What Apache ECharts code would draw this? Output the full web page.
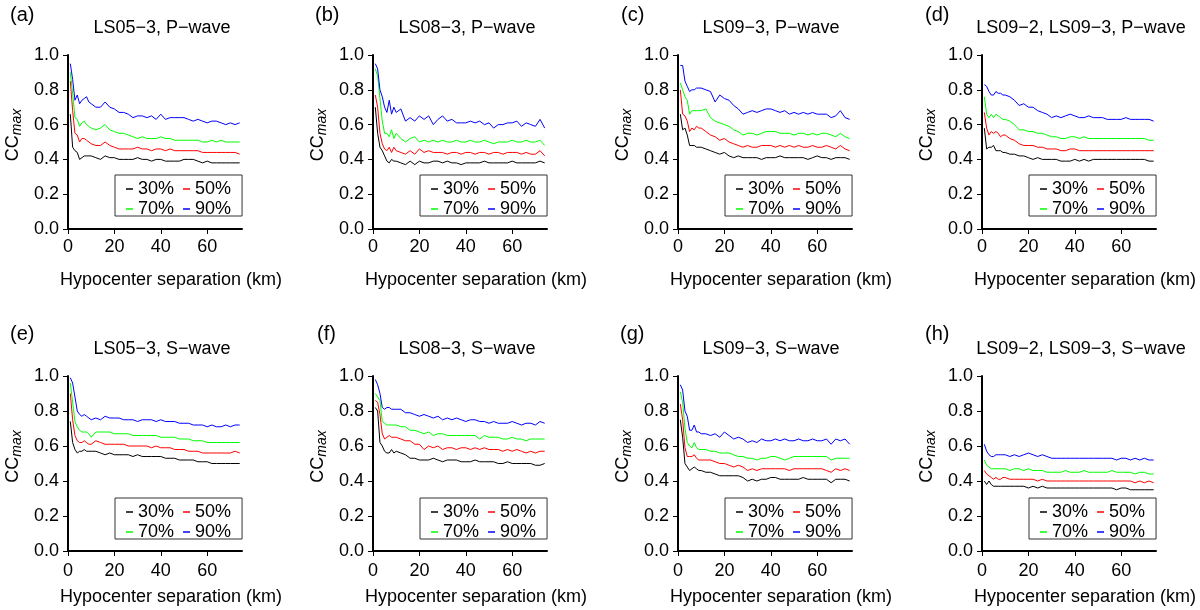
<!DOCTYPE html>
<html><head><meta charset="utf-8">
<script src="https://cdn.jsdelivr.net/npm/echarts@6/dist/echarts.min.js"></script>
<style>html,body{margin:0;padding:0;background:#fff}#c{width:1200px;height:610px}</style>
</head><body><div id="c"></div><script>
// Hypocenter separation (km)
const X = [1,2,3,4,5,6,7,8,9,10,12,14,16,18,20,22,24,26,28,30,32,34,36,38,40,42,44,46,48,50,52,54,56,58,60,62,64,66,68,70,72,74];
const LEVELS = ['30%','50%','70%','90%'];
const PANEL_LABELS = ['(a)','(b)','(c)','(d)','(e)','(f)','(g)','(h)'];
const PANEL_TITLES = ['LS05\u22123, P\u2212wave','LS08\u22123, P\u2212wave','LS09\u22123, P\u2212wave','LS09\u22122, LS09\u22123, P\u2212wave',
                      'LS05\u22123, S\u2212wave','LS08\u22123, S\u2212wave','LS09\u22123, S\u2212wave','LS09\u22122, LS09\u22123, S\u2212wave'];
const X_TICKS = [0,20,40,60];
const X_NAME = 'Hypocenter separation (km)';

// (a) LS05-3 P
const a30 = [0.66,0.47,0.45,0.44,0.40,0.41,0.42,0.42,0.42,0.42, 0.41,0.40,0.42,0.41,0.41,0.40,0.40,0.40,0.40,0.41,0.40,0.40,0.39,0.40,0.40,0.39, 0.39,0.39,0.39,0.40,0.40,0.40,0.39,0.38,0.39,0.38,0.38,0.38,0.38,0.38,0.38,0.38];
const a50 = [0.85,0.68,0.55,0.54,0.50,0.52,0.52,0.51,0.50,0.49, 0.48,0.48,0.50,0.48,0.47,0.46,0.46,0.46,0.46,0.47,0.46,0.46,0.45,0.46,0.46,0.45, 0.46,0.45,0.45,0.45,0.45,0.45,0.45,0.44,0.44,0.44,0.44,0.44,0.44,0.44,0.44,0.43];
const a70 = [0.90,0.78,0.64,0.63,0.59,0.61,0.62,0.60,0.59,0.58, 0.57,0.58,0.60,0.57,0.56,0.55,0.55,0.54,0.53,0.52,0.53,0.52,0.52,0.52,0.53,0.52, 0.52,0.51,0.51,0.51,0.51,0.51,0.51,0.50,0.50,0.51,0.50,0.51,0.50,0.50,0.50,0.50];
const a90 = [0.95,0.86,0.74,0.77,0.72,0.74,0.75,0.76,0.73,0.72, 0.70,0.70,0.73,0.70,0.69,0.67,0.67,0.66,0.64,0.65,0.65,0.64,0.65,0.63,0.66,0.63, 0.64,0.64,0.64,0.64,0.63,0.62,0.63,0.62,0.61,0.62,0.62,0.61,0.60,0.61,0.60,0.61];
// (b) LS08-3 P
const b30 = [0.70,0.55,0.47,0.45,0.42,0.39,0.38,0.40,0.39,0.39, 0.38,0.37,0.39,0.37,0.39,0.38,0.38,0.39,0.39,0.38,0.39,0.38,0.38,0.37,0.38,0.38, 0.38,0.38,0.39,0.38,0.38,0.38,0.38,0.38,0.39,0.38,0.38,0.38,0.38,0.38,0.39,0.38];
const b50 = [0.77,0.70,0.55,0.49,0.46,0.45,0.47,0.44,0.47,0.45, 0.44,0.43,0.45,0.43,0.46,0.44,0.45,0.44,0.44,0.44,0.43,0.44,0.44,0.43,0.44,0.44, 0.43,0.44,0.44,0.43,0.44,0.44,0.43,0.44,0.44,0.44,0.43,0.44,0.43,0.43,0.45,0.42];
const b70 = [0.92,0.88,0.75,0.62,0.55,0.55,0.53,0.57,0.52,0.55, 0.52,0.50,0.52,0.53,0.50,0.51,0.50,0.51,0.50,0.51,0.50,0.50,0.51,0.50,0.50,0.51, 0.50,0.50,0.51,0.50,0.49,0.50,0.50,0.50,0.51,0.50,0.50,0.51,0.50,0.50,0.51,0.48];
const b90 = [0.95,0.92,0.80,0.76,0.70,0.67,0.74,0.66,0.70,0.67, 0.69,0.62,0.64,0.62,0.65,0.63,0.65,0.60,0.63,0.65,0.62,0.63,0.61,0.61,0.61,0.62, 0.61,0.62,0.60,0.61,0.58,0.60,0.60,0.61,0.61,0.62,0.59,0.61,0.60,0.59,0.63,0.58];
// (c) LS09-3 P
const c30 = [0.66,0.57,0.58,0.54,0.48,0.48,0.48,0.47,0.47,0.47, 0.46,0.45,0.44,0.43,0.44,0.42,0.41,0.42,0.41,0.41,0.41,0.41,0.40,0.41,0.41,0.41, 0.42,0.41,0.41,0.41,0.41,0.41,0.40,0.41,0.42,0.41,0.41,0.40,0.41,0.41,0.41,0.40];
const c50 = [0.80,0.66,0.65,0.62,0.56,0.58,0.57,0.59,0.58,0.58, 0.56,0.54,0.53,0.51,0.52,0.50,0.49,0.48,0.47,0.48,0.47,0.47,0.48,0.48,0.48,0.47, 0.48,0.47,0.48,0.47,0.48,0.47,0.47,0.48,0.47,0.47,0.48,0.47,0.46,0.48,0.46,0.45];
const c70 = [0.84,0.80,0.76,0.74,0.66,0.68,0.68,0.68,0.68,0.68, 0.69,0.64,0.62,0.61,0.60,0.59,0.57,0.56,0.54,0.55,0.55,0.54,0.55,0.56,0.56,0.56, 0.55,0.55,0.55,0.54,0.55,0.55,0.54,0.55,0.54,0.55,0.55,0.54,0.53,0.55,0.53,0.52];
const c90 = [0.94,0.94,0.85,0.82,0.79,0.80,0.80,0.81,0.81,0.81, 0.80,0.79,0.73,0.77,0.75,0.74,0.71,0.69,0.66,0.67,0.68,0.67,0.68,0.69,0.69,0.68, 0.67,0.68,0.66,0.67,0.66,0.67,0.66,0.67,0.66,0.66,0.66,0.64,0.65,0.68,0.64,0.63];
// (d) LS09-2, LS09-3 P
const d30 = [0.58,0.46,0.47,0.47,0.48,0.45,0.45,0.45,0.44,0.44, 0.43,0.43,0.42,0.42,0.41,0.40,0.41,0.40,0.40,0.40,0.40,0.39,0.39,0.39,0.40,0.39, 0.40,0.39,0.40,0.40,0.40,0.40,0.40,0.40,0.40,0.40,0.40,0.40,0.40,0.40,0.39,0.39];
const d50 = [0.67,0.58,0.54,0.56,0.55,0.56,0.55,0.53,0.54,0.54, 0.52,0.51,0.49,0.48,0.48,0.48,0.47,0.47,0.46,0.46,0.46,0.45,0.45,0.46,0.46,0.45, 0.45,0.45,0.45,0.45,0.45,0.45,0.45,0.45,0.45,0.45,0.45,0.45,0.45,0.45,0.45,0.45];
const d70 = [0.76,0.66,0.64,0.66,0.64,0.66,0.65,0.64,0.63,0.63, 0.62,0.60,0.57,0.57,0.56,0.56,0.55,0.55,0.54,0.53,0.53,0.52,0.52,0.53,0.53,0.52, 0.53,0.52,0.52,0.52,0.52,0.52,0.52,0.52,0.52,0.52,0.52,0.52,0.52,0.52,0.51,0.51];
const d90 = [0.83,0.82,0.79,0.77,0.77,0.79,0.78,0.78,0.77,0.77, 0.76,0.74,0.71,0.72,0.70,0.70,0.68,0.67,0.66,0.64,0.65,0.64,0.65,0.66,0.65,0.64, 0.64,0.65,0.64,0.64,0.64,0.63,0.63,0.63,0.63,0.64,0.63,0.63,0.63,0.63,0.63,0.62];
// (e) LS05-3 S
const e30 = [0.74,0.62,0.58,0.56,0.57,0.57,0.58,0.57,0.57,0.57, 0.57,0.56,0.55,0.56,0.55,0.55,0.55,0.55,0.54,0.55,0.54,0.54,0.54,0.54,0.54,0.53, 0.53,0.53,0.52,0.52,0.52,0.52,0.51,0.51,0.51,0.50,0.50,0.50,0.50,0.50,0.50,0.50];
const e50 = [0.90,0.75,0.66,0.63,0.62,0.62,0.63,0.62,0.61,0.61, 0.63,0.62,0.61,0.61,0.61,0.61,0.61,0.60,0.60,0.60,0.60,0.60,0.59,0.60,0.59,0.59, 0.59,0.58,0.58,0.58,0.57,0.57,0.57,0.56,0.56,0.56,0.56,0.56,0.56,0.56,0.57,0.56];
const e70 = [0.96,0.85,0.74,0.71,0.69,0.68,0.68,0.68,0.67,0.65, 0.68,0.68,0.68,0.68,0.67,0.67,0.67,0.67,0.66,0.66,0.66,0.66,0.66,0.66,0.65,0.65, 0.65,0.65,0.64,0.64,0.64,0.63,0.63,0.63,0.62,0.62,0.62,0.62,0.62,0.62,0.62,0.62];
const e90 = [0.99,0.96,0.88,0.80,0.78,0.77,0.78,0.77,0.76,0.75, 0.76,0.75,0.77,0.76,0.76,0.76,0.75,0.75,0.75,0.74,0.75,0.75,0.75,0.74,0.75,0.74, 0.74,0.74,0.73,0.73,0.73,0.72,0.72,0.72,0.71,0.72,0.71,0.71,0.72,0.71,0.72,0.72];
// (f) LS08-3 S
const f30 = [0.82,0.80,0.62,0.60,0.57,0.56,0.56,0.58,0.56,0.57, 0.56,0.55,0.53,0.53,0.52,0.52,0.52,0.53,0.52,0.51,0.52,0.52,0.52,0.51,0.51,0.51, 0.52,0.51,0.51,0.51,0.51,0.50,0.50,0.51,0.50,0.50,0.50,0.50,0.50,0.49,0.49,0.50];
const f50 = [0.86,0.85,0.78,0.67,0.64,0.65,0.66,0.65,0.65,0.65, 0.64,0.63,0.63,0.61,0.61,0.58,0.60,0.59,0.60,0.58,0.59,0.59,0.58,0.59,0.59,0.58, 0.59,0.58,0.59,0.58,0.58,0.58,0.57,0.58,0.57,0.58,0.57,0.56,0.57,0.56,0.57,0.57];
const f70 = [0.90,0.88,0.86,0.74,0.73,0.72,0.72,0.72,0.72,0.72, 0.71,0.71,0.69,0.69,0.68,0.67,0.68,0.66,0.67,0.67,0.66,0.66,0.66,0.66,0.66,0.66, 0.66,0.64,0.66,0.65,0.65,0.65,0.64,0.64,0.65,0.64,0.64,0.63,0.64,0.64,0.64,0.64];
const f90 = [0.98,0.95,0.90,0.82,0.81,0.82,0.82,0.81,0.81,0.81, 0.81,0.79,0.79,0.78,0.77,0.78,0.77,0.76,0.77,0.75,0.76,0.75,0.76,0.75,0.74,0.75, 0.75,0.74,0.74,0.73,0.74,0.73,0.73,0.73,0.74,0.73,0.72,0.73,0.73,0.72,0.74,0.73];
// (g) LS09-3 S
const g30 = [0.75,0.65,0.50,0.48,0.46,0.47,0.48,0.47,0.46,0.46, 0.45,0.45,0.44,0.43,0.43,0.43,0.43,0.43,0.42,0.40,0.41,0.40,0.41,0.41,0.42,0.42, 0.41,0.41,0.41,0.41,0.41,0.42,0.41,0.41,0.41,0.41,0.41,0.39,0.41,0.41,0.41,0.40];
const g50 = [0.84,0.75,0.59,0.54,0.54,0.54,0.55,0.53,0.52,0.52, 0.52,0.52,0.51,0.50,0.50,0.49,0.48,0.49,0.48,0.46,0.47,0.46,0.47,0.47,0.47,0.47, 0.47,0.47,0.46,0.47,0.47,0.47,0.47,0.47,0.47,0.47,0.46,0.45,0.47,0.46,0.47,0.46];
const g70 = [0.91,0.85,0.70,0.62,0.60,0.59,0.62,0.59,0.58,0.58, 0.58,0.57,0.57,0.56,0.56,0.56,0.55,0.54,0.54,0.53,0.53,0.52,0.53,0.53,0.54,0.54, 0.53,0.52,0.53,0.54,0.54,0.54,0.54,0.54,0.54,0.54,0.54,0.52,0.53,0.53,0.53,0.53];
const g90 = [0.95,0.92,0.80,0.77,0.69,0.69,0.72,0.68,0.68,0.67, 0.67,0.66,0.67,0.65,0.68,0.66,0.64,0.65,0.64,0.62,0.63,0.62,0.64,0.63,0.63,0.64, 0.63,0.64,0.63,0.63,0.64,0.63,0.63,0.64,0.63,0.63,0.64,0.61,0.64,0.63,0.64,0.61];
// (h) LS09-2, LS09-3 S
const h30 = [0.40,0.38,0.40,0.38,0.37,0.37,0.37,0.37,0.37,0.37, 0.37,0.37,0.37,0.37,0.36,0.37,0.36,0.37,0.36,0.36,0.36,0.36,0.36,0.36,0.36,0.36, 0.36,0.36,0.36,0.36,0.36,0.36,0.36,0.35,0.36,0.36,0.35,0.35,0.35,0.35,0.35,0.35];
const h50 = [0.46,0.44,0.43,0.42,0.41,0.42,0.41,0.41,0.42,0.42, 0.41,0.41,0.41,0.41,0.41,0.41,0.40,0.41,0.40,0.40,0.40,0.40,0.40,0.40,0.40,0.40, 0.40,0.40,0.40,0.40,0.40,0.40,0.40,0.40,0.40,0.40,0.40,0.39,0.40,0.39,0.40,0.39];
const h70 = [0.52,0.49,0.48,0.47,0.47,0.47,0.47,0.47,0.47,0.47, 0.46,0.47,0.47,0.46,0.47,0.46,0.46,0.46,0.45,0.45,0.45,0.45,0.46,0.45,0.45,0.45, 0.46,0.45,0.45,0.45,0.45,0.45,0.46,0.45,0.45,0.45,0.45,0.44,0.45,0.45,0.44,0.44];
const h90 = [0.61,0.57,0.55,0.54,0.54,0.55,0.55,0.55,0.55,0.55, 0.54,0.55,0.54,0.55,0.56,0.55,0.54,0.55,0.54,0.53,0.53,0.53,0.53,0.53,0.53,0.53, 0.53,0.53,0.53,0.53,0.53,0.53,0.53,0.52,0.53,0.53,0.52,0.53,0.52,0.53,0.52,0.52];

const PANEL_DATA = [[a30,a50,a70,a90],[b30,b50,b70,b90],[c30,c50,c70,c90],[d30,d50,d70,d90],
                    [e30,e50,e70,e90],[f30,f50,f70,f90],[g30,g50,g70,g90],[h30,h50,h70,h90]];

const FONT = '"Liberation Sans", Arial, Helvetica, sans-serif';
const COLORS = ['#000000','#ff0000','#00ff00','#0000ff'];
const COL_LEFT = [68, 373, 678, 982];
const ROW_TOP = [55, 376];
const GW = 174, GH = [174, 175];
const LABEL_X = [[10, 315, 621, 925], [10, 317, 620, 925]];
const TITLE_X = [162, 467, 771, 1081];

const grid = [], xAxis = [], yAxis = [], series = [], legend = [], graphic = [];
const legendText = {fontFamily: FONT, fontSize: 18, color: '#000'};
for (let p = 0; p < 8; p++) {
  const r = Math.floor(p / 4), c = p % 4;
  const left = COL_LEFT[c], top = ROW_TOP[r];
  grid.push({left: left, top: top, width: GW, height: GH[r], containLabel: false});
  xAxis.push({
    type: 'value', gridIndex: p, min: 0, max: 75, interval: 20,
    name: X_NAME, nameLocation: 'middle', nameGap: r === 0 ? 42 : 37,
    nameTextStyle: {fontFamily: FONT, fontSize: 18, color: '#000', padding: [0, 0, 0, 32]},
    axisLine: {show: true, onZero: false, lineStyle: {color: '#000', width: 2}},
    axisTick: {show: true, length: 5, customValues: X_TICKS, lineStyle: {color: '#000', width: 1}},
    axisLabel: {customValues: X_TICKS, margin: r === 0 ? 9 : 11, fontFamily: FONT, fontSize: 18, color: '#000'},
    splitLine: {show: false}
  });
  yAxis.push({
    type: 'value', gridIndex: p, min: 0, max: 1, interval: 0.2,
    name: '{c|CC}{s|max}', nameLocation: 'middle', nameRotate: 90, nameGap: 44,
    nameTextStyle: {padding: [0, 0, 0, 14], rich: {
      c: {fontFamily: FONT, fontSize: 18, color: '#000', lineHeight: 20, verticalAlign: 'top'},
      s: {fontFamily: FONT, fontSize: 14, fontStyle: 'italic', color: '#000', lineHeight: 14, padding: [8, 0, 0, 0], verticalAlign: 'bottom'}
    }},
    axisLine: {show: true, onZero: false, lineStyle: {color: '#000', width: 2}},
    axisTick: {show: true, length: 5, lineStyle: {color: '#000', width: 1}},
    axisLabel: {margin: 9, fontFamily: FONT, fontSize: 18, color: '#000', formatter: v => v.toFixed(1)},
    splitLine: {show: false}
  });
  for (let k = 0; k < 4; k++) {
    const vals = PANEL_DATA[p][k];
    series.push({
      type: 'line', name: LEVELS[k], xAxisIndex: p, yAxisIndex: p,
      data: X.map((x, j) => [x, vals[j]]),
      showSymbol: false, symbol: 'none', silent: true,
      lineStyle: {width: 1, color: COLORS[k]}, itemStyle: {color: COLORS[k]}
    });
  }
  const lt = top + 120 + r * 2;
  // first row of the legend; its box also frames the second row
  legend.push({
    data: LEVELS.slice(0, 2), left: left + 47, top: lt,
    orient: 'horizontal', icon: 'rect', itemWidth: 7, itemHeight: 1.5, itemGap: 9,
    padding: [5, 11, 18, 11], borderColor: '#333', borderWidth: 1, borderRadius: 0,
    selectedMode: false, textStyle: legendText
  });
  legend.push({
    data: LEVELS.slice(2, 4), left: left + 47, top: lt + 20,
    orient: 'horizontal', icon: 'rect', itemWidth: 7, itemHeight: 1.5, itemGap: 9,
    padding: [5, 11, 0, 11], borderWidth: 0,
    selectedMode: false, textStyle: legendText
  });
  graphic.push({type: 'text', x: LABEL_X[r][c], y: r === 0 ? 15 : 334, silent: true,
    style: {text: PANEL_LABELS[p], font: '20px ' + FONT, fill: '#000', align: 'left', verticalAlign: 'middle'}});
  graphic.push({type: 'text', x: TITLE_X[c], y: r === 0 ? 28 : 349, silent: true,
    style: {text: PANEL_TITLES[p], font: '18px ' + FONT, fill: '#000', align: 'center', verticalAlign: 'middle'}});
}

const chart = echarts.init(document.getElementById('c'), null, {renderer: 'canvas'});
chart.setOption({animation: false, backgroundColor: '#fff', grid, xAxis, yAxis, series, legend, graphic});
</script></body></html>
